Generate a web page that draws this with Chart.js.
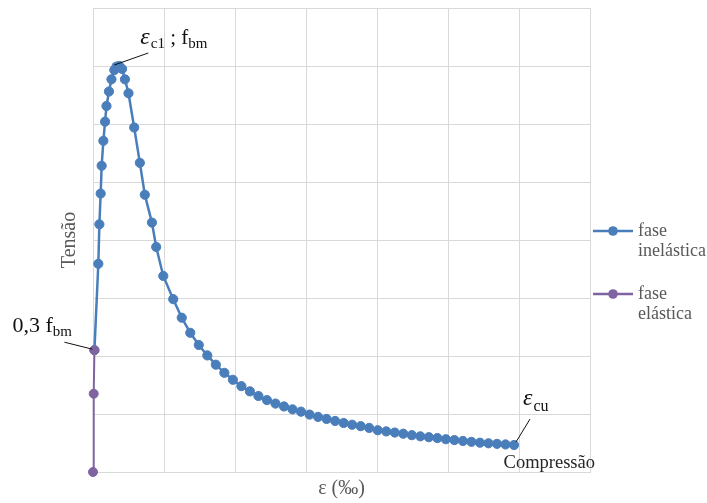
<!DOCTYPE html>
<html><head><meta charset="utf-8">
<script src="https://cdn.jsdelivr.net/npm/chart.js@4.4.1/dist/chart.umd.min.js"></script>
<style>html,body{margin:0;padding:0;background:#fff}#wrap{width:707px;height:503px;position:relative}</style>
</head><body><div id="wrap"><canvas id="c" width="707" height="503"></canvas></div>
<script>
// ---- data (x = grid units of ε, y = grid units of tensão)
const elasticX = [0, 0.01, 0.02];
const elasticY = [0, 1.35, 2.10];

const inelasticX = [0.02, 0.075, 0.09, 0.108, 0.122, 0.146, 0.17, 0.19, 0.225, 0.26, 0.30, 0.33, 0.37, 0.41, 0.45, 0.50, 0.58, 0.66, 0.73, 0.83, 0.89, 0.99,
  1.13, 1.25, 1.37, 1.49, 1.61, 1.73, 1.85, 1.97, 2.09, 2.21, 2.33, 2.45, 2.57, 2.69, 2.81, 2.93, 3.05, 3.17, 3.29, 3.41, 3.53, 3.65, 3.77, 3.89, 4.01,
  4.13, 4.25, 4.37, 4.49, 4.61, 4.73, 4.85, 4.97, 5.09, 5.21, 5.33, 5.45, 5.57, 5.69, 5.81, 5.93];
const inelasticY = [2.10, 3.59, 4.27, 4.80, 5.28, 5.71, 6.04, 6.31, 6.56, 6.77, 6.93, 6.99, 7.00, 6.95, 6.77, 6.53, 5.94, 5.33, 4.78, 4.30, 3.88, 3.38,
  2.98, 2.66, 2.40, 2.19, 2.01, 1.85, 1.71, 1.59, 1.48, 1.39, 1.31, 1.24, 1.18, 1.13, 1.08, 1.04, 0.99, 0.95, 0.915, 0.88, 0.845, 0.815, 0.79, 0.76, 0.72,
  0.70, 0.68, 0.66, 0.635, 0.615, 0.60, 0.585, 0.565, 0.55, 0.535, 0.52, 0.505, 0.495, 0.485, 0.475, 0.465];

const seriesNames = ['fase inelástica', 'fase elástica'];
const xTitle = 'ε (‰)';
const yTitle = 'Tensão';
const cornerLabel = 'Compressão';

const BLUE = '#4A7EBB';
const PURPLE = '#8064A2';
const GRID = '#d9d9d9';
const SERIF = '"Liberation Serif", "Times New Roman", serif';

const toPts = (xs, ys) => xs.map((x, i) => ({x: x, y: ys[i]}));

function drawParts(ctx, x, base, parts) {
  let cx = x;
  for (const p of parts) {
    ctx.font = p.font;
    ctx.fillText(p.t, cx, base + (p.dy || 0));
    cx += ctx.measureText(p.t).width + (p.gap || 0);
  }
}

const extras = {
  id: 'extras',
  afterDraw(chart) {
    const ctx = chart.ctx;
    const xs = chart.scales.x, ys = chart.scales.y;
    const ca = chart.chartArea;
    ctx.save();
    ctx.fillStyle = '#111';
    ctx.strokeStyle = '#111';
    ctx.lineWidth = 1;
    ctx.textBaseline = 'alphabetic';
    ctx.textAlign = 'left';

    // peak label
    let pi = 0;
    inelasticY.forEach((v, i) => { if (v > inelasticY[pi]) pi = i; });
    const px = xs.getPixelForValue(inelasticX[pi]), py = ys.getPixelForValue(inelasticY[pi]);
    ctx.beginPath(); ctx.moveTo(px - 5, py - 1); ctx.lineTo(px + 29, py - 13); ctx.stroke();
    drawParts(ctx, px + 21, py - 22, [
      {t: 'ε', font: 'italic 24px ' + SERIF, gap: 1},
      {t: 'c1', font: '15px ' + SERIF, dy: 4},
      {t: ' ; ', font: '21px ' + SERIF},
      {t: 'f', font: '21px ' + SERIF},
      {t: 'bm', font: '15px ' + SERIF, dy: 4}
    ]);

    // 0,3 fbm label
    const ex = xs.getPixelForValue(elasticX[elasticX.length - 1]), ey = ys.getPixelForValue(elasticY[elasticY.length - 1]);
    ctx.beginPath(); ctx.moveTo(ex - 30, ey - 8); ctx.lineTo(ex - 2, ey - 1); ctx.stroke();
    drawParts(ctx, ex - 82, ey - 18, [
      {t: '0,3 f', font: '22px ' + SERIF},
      {t: 'bm', font: '15px ' + SERIF, dy: 4}
    ]);

    // εcu label
    const n = inelasticX.length - 1;
    const ux = xs.getPixelForValue(inelasticX[n]), uy = ys.getPixelForValue(inelasticY[n]);
    ctx.beginPath(); ctx.moveTo(ux + 2, uy - 3); ctx.lineTo(ux + 16, uy - 26); ctx.stroke();
    drawParts(ctx, ux + 9, uy - 40, [
      {t: 'ε', font: 'italic 24px ' + SERIF, gap: 1},
      {t: 'cu', font: '16px ' + SERIF, dy: 6}
    ]);

    // corner label
    ctx.fillStyle = '#262626';
    ctx.font = '18.5px ' + SERIF;
    ctx.textAlign = 'right';
    ctx.fillText(cornerLabel, ca.right + 5, ca.bottom - 4);

    // legend
    const items = [
      {color: BLUE, lines: ['fase', 'inelástica'], y: 231, lw: 2.5, r: 4.8},
      {color: PURPLE, lines: ['fase', 'elástica'], y: 294, lw: 2.5, r: 4.8}
    ];
    const lx0 = ca.right + 3;
    ctx.textAlign = 'left';
    ctx.textBaseline = 'middle';
    for (const it of items) {
      ctx.strokeStyle = it.color; ctx.fillStyle = it.color; ctx.lineWidth = it.lw;
      ctx.beginPath(); ctx.moveTo(lx0, it.y); ctx.lineTo(lx0 + 40, it.y); ctx.stroke();
      ctx.beginPath(); ctx.arc(lx0 + 20, it.y, it.r, 0, Math.PI * 2); ctx.fill();
      ctx.fillStyle = '#595959';
      ctx.font = '18px ' + SERIF;
      ctx.fillText(it.lines[0], lx0 + 45, it.y);
      ctx.fillText(it.lines[1], lx0 + 45, it.y + 20);
    }
    ctx.restore();
  }
};

new Chart(document.getElementById('c'), {
  type: 'scatter',
  data: {
    datasets: [
      {
        label: seriesNames[1],
        data: toPts(elasticX, elasticY),
        showLine: true,
        clip: false,
        borderColor: PURPLE, backgroundColor: PURPLE,
        pointBackgroundColor: PURPLE, pointBorderColor: PURPLE,
        borderWidth: 2, pointRadius: 4.5, pointBorderWidth: 1,
        order: 0
      },
      {
        label: seriesNames[0],
        data: toPts(inelasticX, inelasticY),
        showLine: true,
        clip: false,
        borderColor: BLUE, backgroundColor: BLUE,
        pointBackgroundColor: BLUE, pointBorderColor: BLUE,
        borderWidth: 2.5, pointRadius: 4.6, pointBorderWidth: 1,
        order: 1
      }
    ]
  },
  options: {
    responsive: false,
    animation: false,
    devicePixelRatio: 1,
    layout: {padding: {top: 8, right: 117, bottom: 0, left: 0}},
    plugins: {legend: {display: false}, tooltip: {enabled: false}},
    scales: {
      x: {
        type: 'linear', min: 0, max: 7,
        ticks: {display: false, stepSize: 1},
        grid: {color: GRID, lineWidth: 1, drawTicks: false, tickLength: 0},
        border: {color: GRID, width: 1},
        title: {display: true, text: xTitle, color: '#595959', font: {family: SERIF, size: 20}, padding: {top: 0, bottom: 2}},
        afterFit(s) { s.height = 31; }
      },
      y: {
        type: 'linear', min: 0, max: 8,
        ticks: {display: false, stepSize: 1},
        grid: {color: GRID, lineWidth: 1, drawTicks: false, tickLength: 0},
        border: {color: GRID, width: 1},
        title: {display: true, text: yTitle, color: '#595959', font: {family: SERIF, size: 20}, padding: {top: 58, bottom: 0}},
        afterFit(s) { s.width = 93; }
      }
    }
  },
  plugins: [extras]
});
</script></body></html>
